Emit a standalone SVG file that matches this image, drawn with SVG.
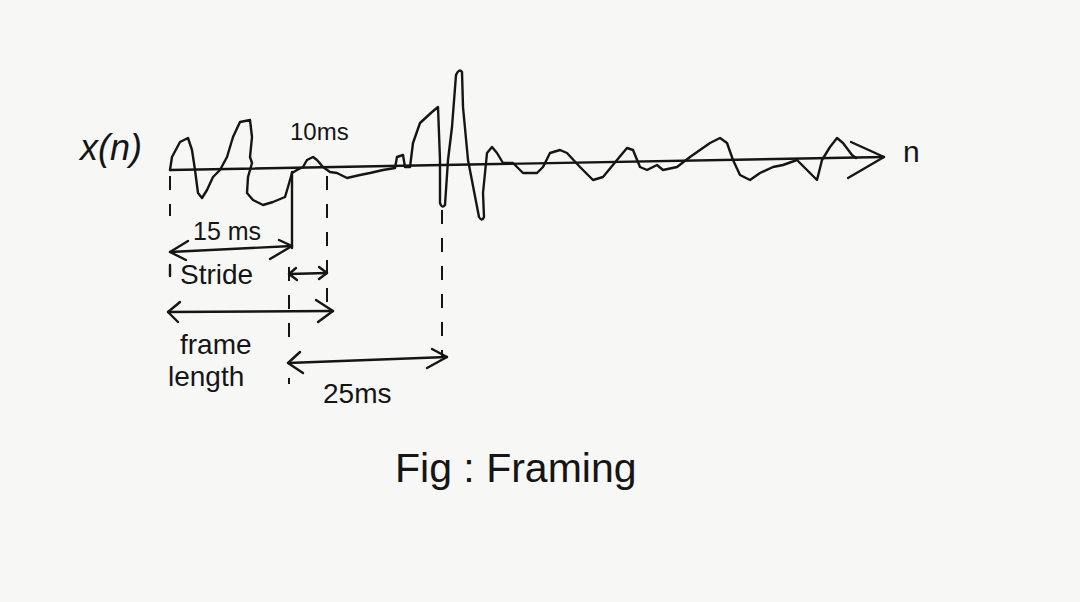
<svg xmlns="http://www.w3.org/2000/svg" width="1080" height="602" viewBox="0 0 1080 602">
<style>
.ink{fill:none;stroke:#151515;stroke-width:2.4;stroke-linecap:round;stroke-linejoin:round}
.dash{fill:none;stroke:#151515;stroke-width:2;stroke-dasharray:14 14}
.t{font-family:"Liberation Sans",Arial,sans-serif;fill:#151515}
</style>
<rect width="1080" height="602" fill="#f7f7f5"/>
<g id="axis">
<path class="ink" d="M170 170 L884 157"/>
<path class="ink" d="M851 142 L884 157 L848 178"/>
</g>
<g id="waveform">
<path class="ink" d="M170 170 L172 157 L180 142 L188 138 L192 150 L195 170 L198 193 L202 198 L207 190 L213 177 L220 170 L227 157 L233 137 L240 122 L250 120 L252 137 L250 157 L252 163 L248 177 L247 193 L253 200 L263 205 L273 202 L285 197 L288 187 L292 173 L297 170 L303 167 L307 160 L313 157 L317 160 L323 167 L330 172 L337 173 L347 178 L360 175 L370 173 L383 170 L395 168 L397 157 L403 155 L405 167 L410 167 L413 143 L420 123 L432 112 L438 107 L440 160 L440 203 Q442 209 445 205 L448 160 L452 127 L456 75 Q459 68 462 72 L463 107 L468 160 L479 217 Q482 222 484 217 L483 193 L487 153 L492 147 L497 153 L503 163 L513 163 L523 173 L537 173 L543 167 L550 153 L560 150 L567 153 L580 167 L593 180 L603 177 L617 160 L627 148 L633 150 L640 167 L647 170 L657 165 L663 170 L677 167 L690 157 L710 143 L720 138 L727 143 L733 160 L740 175 L750 180 L760 173 L773 167 L783 165 L797 160 L807 170 L817 180 L822 160 L830 147 L837 138 L843 143 L852 155 L856 158"/>
</g>
<g id="guides">
<path class="dash" d="M170 176 V216"/>
<path class="ink" d="M170 265 V276"/>
<path class="ink" d="M292 172 V248"/>
<path class="dash" d="M289 267 V345 M289 378 V384"/>
<path class="dash" d="M327 176 V312" stroke-dasharray="13 18"/>
<path class="dash" d="M442 210 V358" stroke-dasharray="14 16"/>
</g>
<g id="connectors">
<path class="ink" d="M170 252 L292 246"/>
<path class="ink" d="M188 241 L170 252 L186 260"/>
<path class="ink" d="M279 240 L292 246 L270 259"/>
<path class="ink" d="M289 274 L327 273"/>
<path class="ink" d="M296 268 L289 274 L297 280 M319 267 L327 273 L319 279"/>
<path class="ink" d="M168 312 L333 311"/>
<path class="ink" d="M180 302 L168 312 L178 322"/>
<path class="ink" d="M316 300 L333 311 L318 322"/>
<path class="ink" d="M288 363 L447 357"/>
<path class="ink" d="M300 352 L288 363 L303 373"/>
<path class="ink" d="M432 349 L447 357 L427 368"/>
</g>
<g id="labels">
<text class="t" x="80" y="160" font-size="36" font-style="italic">x(n)</text>
<text class="t" x="290" y="140" font-size="24">10ms</text>
<text class="t" x="193" y="240" font-size="25">15 ms</text>
<text class="t" x="180" y="284" font-size="28">Stride</text>
<text class="t" x="180" y="354" font-size="28">frame</text>
<text class="t" x="168" y="386" font-size="28">length</text>
<text class="t" x="323" y="403" font-size="28">25ms</text>
<text class="t" x="903" y="162" font-size="30">n</text>
<text class="t" x="395" y="482" font-size="41">Fig : Framing</text>
</g>
</svg>
